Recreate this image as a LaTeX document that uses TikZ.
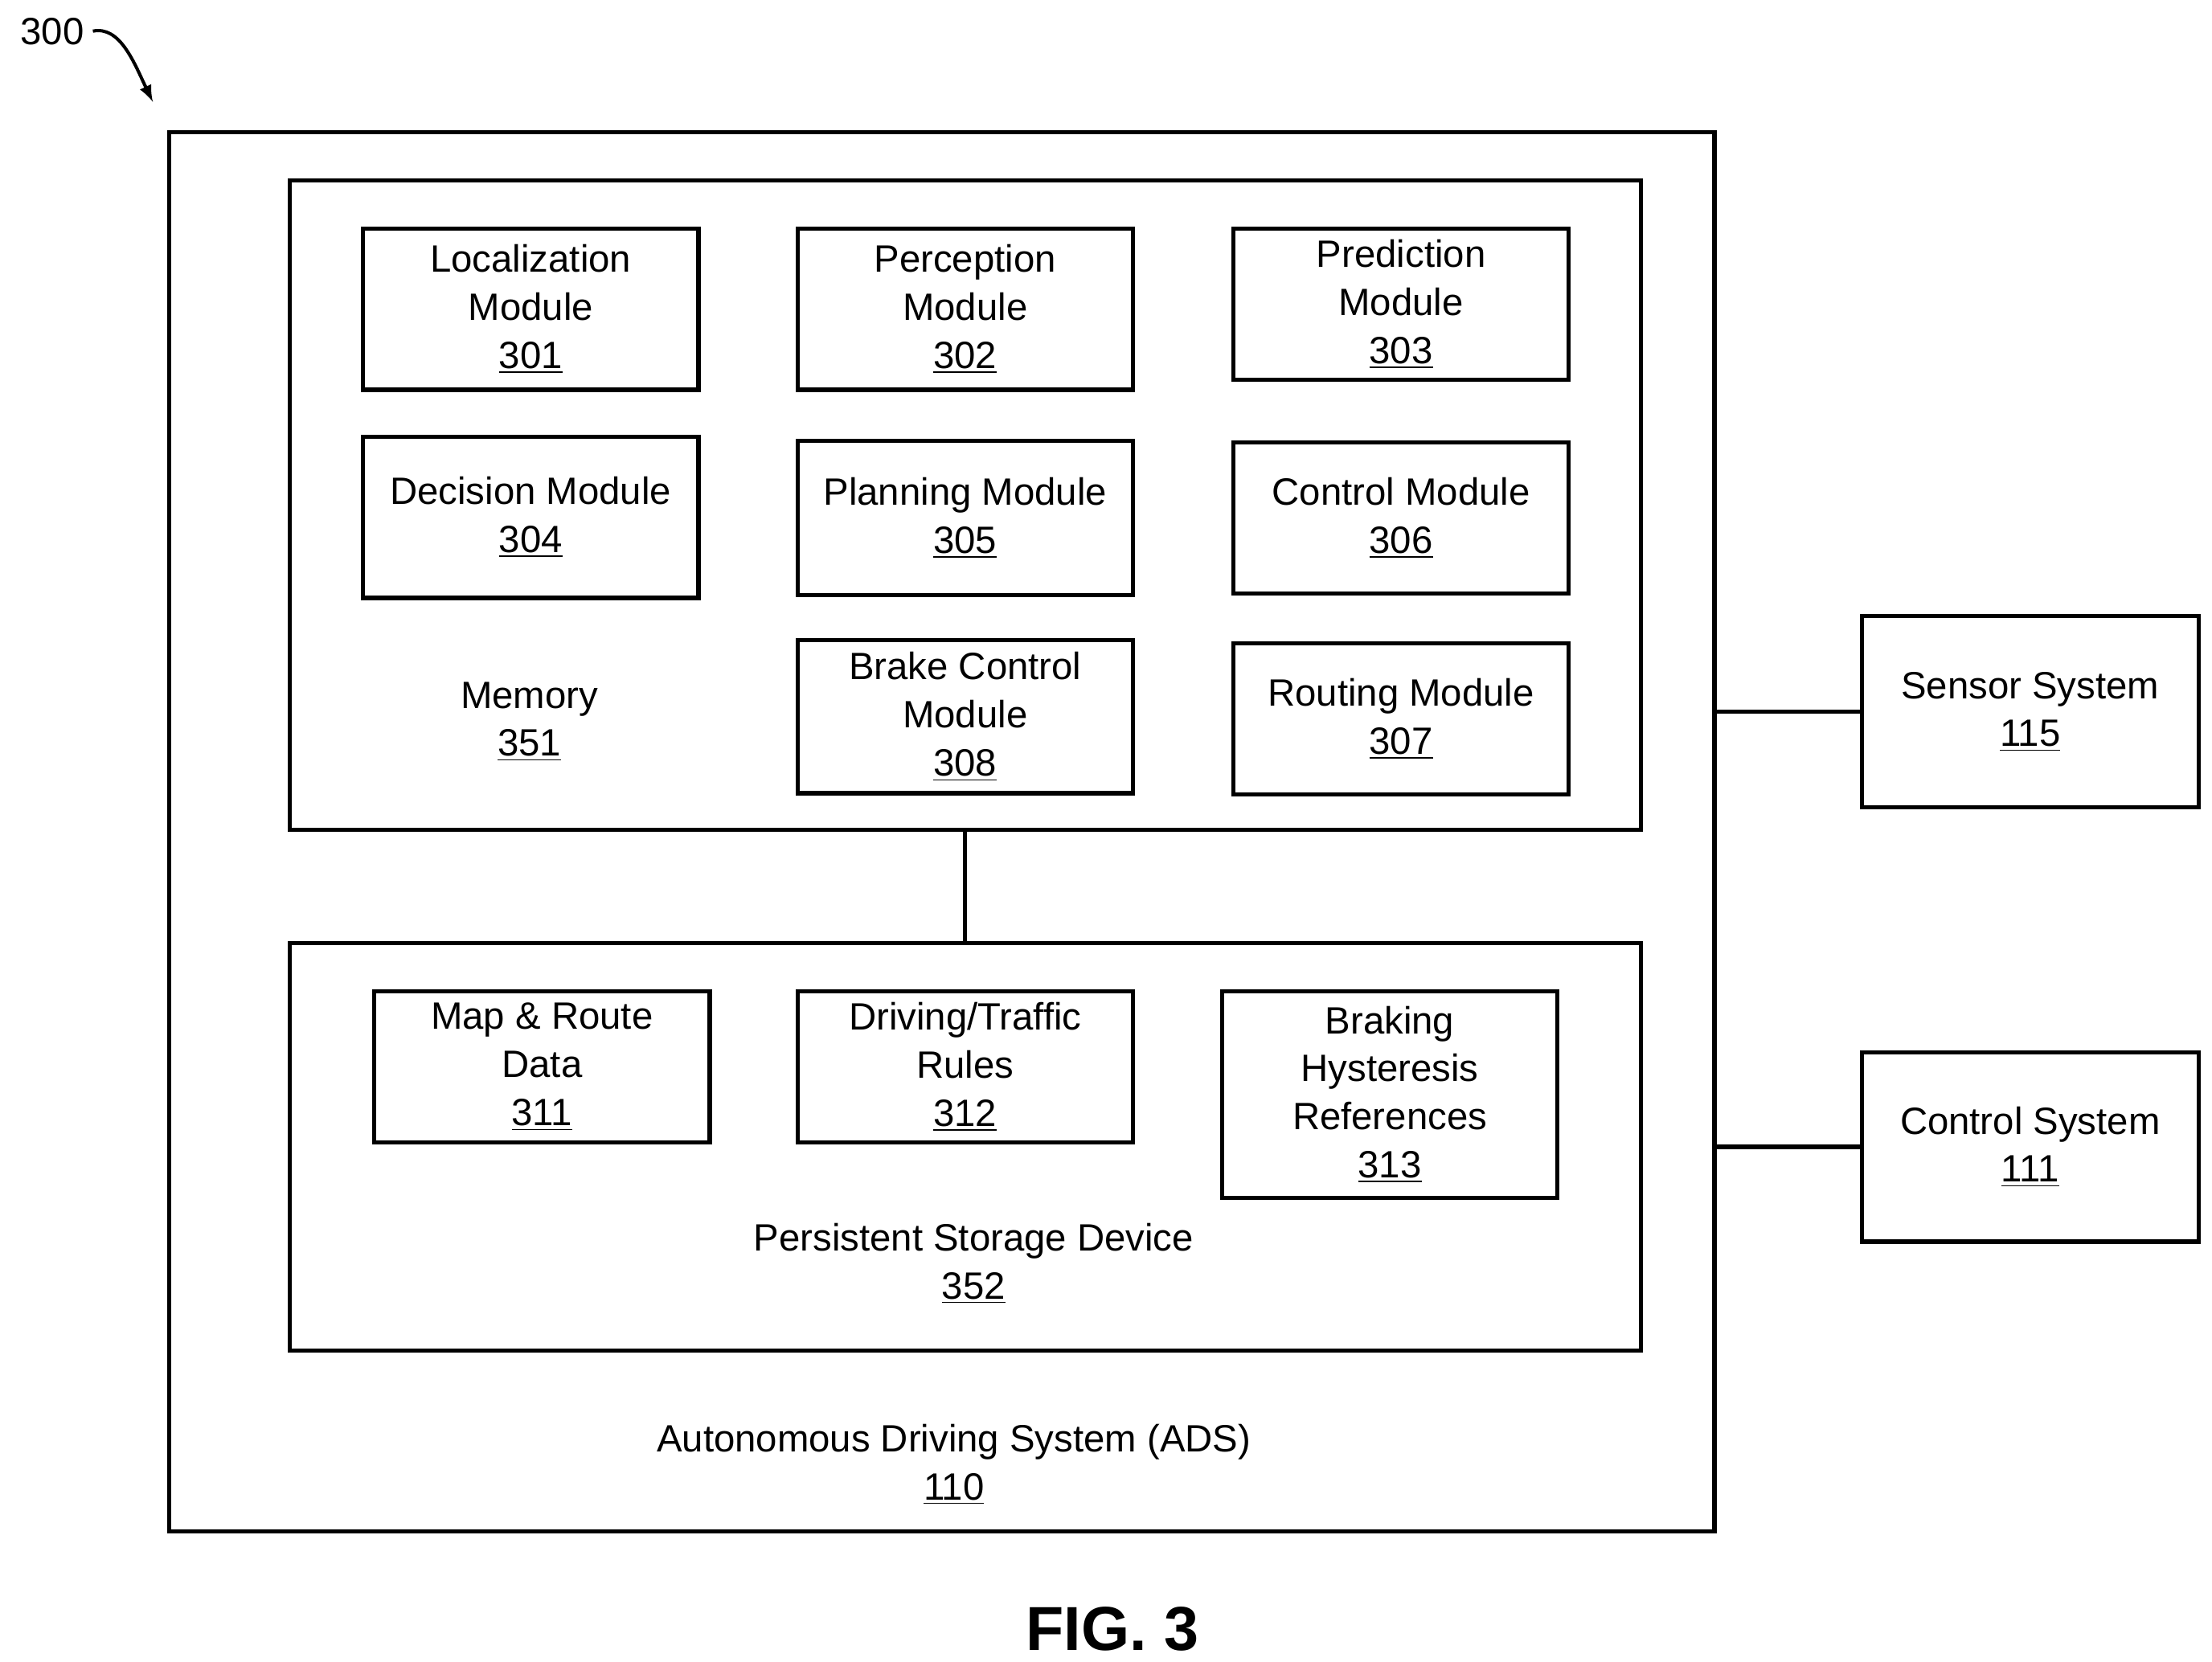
\documentclass[tikz,border=0pt]{standalone}
\usepackage{fontspec}
\setmainfont{Liberation Sans}
\begin{document}
\begin{tikzpicture}[x=0.02cm,y=-0.02cm,
  box/.style={draw,line width=1.7pt,minimum width=4.74cm,align=center,inner sep=0pt,font=\fontsize{15.3}{19.3}\selectfont},
  big/.style={draw,line width=1.7pt,inner sep=0pt},
  lbl/.style={align=center,font=\fontsize{15.3}{19.3}\selectfont},
  ln/.style={line width=1.7pt}]
\useasboundingbox (0,0) rectangle (1563,1174);
\node[big,minimum width=21.84cm,minimum height=19.78cm] (ads) at (665.5,588) {};
\node[big,minimum width=19.1cm,minimum height=9.18cm] (mem) at (682,357) {};
\node[big,minimum width=19.1cm,minimum height=5.76cm] (sto) at (682,810.5) {};
\node[box,minimum height=2.28cm] (m301) at (375,218.5) {Localization\\Module\\\underline{301}};
\node[box,minimum height=2.28cm] (m302) at (682,218.5) {Perception\\Module\\\underline{302}};
\node[box,minimum height=2.14cm] (m303) at (990,215) {Prediction\\Module\\\underline{303}};
\node[box,minimum height=2.28cm] (m304) at (375,365.5) {Decision Module\\\underline{304}};
\node[box,minimum height=2.18cm] (m305) at (682,366) {Planning Module\\\underline{305}};
\node[box,minimum height=2.14cm] (m306) at (990,366) {Control Module\\\underline{306}};
\node[box,minimum height=2.16cm] (m308) at (682,506.5) {Brake Control\\Module\\\underline{308}};
\node[box,minimum height=2.14cm] (m307) at (990,508) {Routing Module\\\underline{307}};
\node[lbl] (memlbl) at (374,510) {Memory\\\underline{351}};
\node[box,minimum height=2.14cm] (m311) at (383,754) {Map \& Route\\Data\\\underline{311}};
\node[box,minimum height=2.14cm] (m312) at (682,754) {Driving/Traffic\\Rules\\\underline{312}};
\node[box,minimum height=2.92cm] (m313) at (982,773.5) {Braking\\Hysteresis\\References\\\underline{313}};
\node[lbl] (stolbl) at (688,893) {Persistent Storage Device\\\underline{352}};
\node[lbl] (adslbl) at (674,1035) {Autonomous Driving System (ADS)\\\underline{110}};
\node[box,minimum width=4.76cm,minimum height=2.7cm] (sen) at (1434.5,503) {Sensor System\\\underline{115}};
\node[box,minimum width=4.76cm,minimum height=2.68cm] (ctl) at (1434.5,810.5) {Control System\\\underline{111}};
\draw[ln] (mem.south) -- (sto.north);
\draw[ln] (sen.west) -- (sen.west -| ads.east);
\draw[ln] (ctl.west) -- (ctl.west -| ads.east);
\node[lbl] (n300) at (37,22) {300};
\coordinate (tip) at (108,72);
\draw[line width=1.3pt,-latex] (n300.east) .. controls (85,18) and (95,45) .. (tip);
\node[font=\fontsize{25}{30}\selectfont\bfseries] (fig) at (786,1151) {FIG. 3};
\end{tikzpicture}
\end{document}
